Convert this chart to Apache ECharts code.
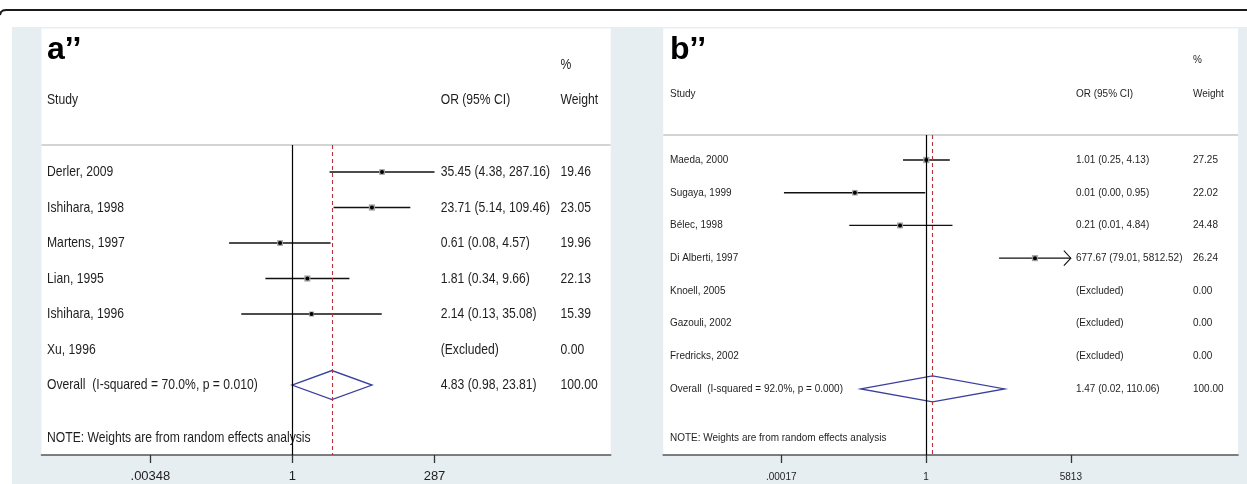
<!DOCTYPE html>
<html>
<head>
<meta charset="utf-8">
<title>Forest plots a'' and b''</title>
<script src="https://cdn.jsdelivr.net/npm/echarts@6/dist/echarts.min.js"></script>
<style>
  html, body { margin: 0; padding: 0; background: #ffffff; }
  #chart { width: 1247px; height: 484px; }
</style>
</head>
<body>
<div id="chart"></div>
<script>
// ---- Panel a'' : individual studies (odds ratio, 95% CI, % weight) ----
const studiesA = ['Derler, 2009', 'Ishihara, 1998', 'Martens, 1997', 'Lian, 1995', 'Ishihara, 1996', 'Xu, 1996'];
const orA      = [35.45, 23.71, 0.61, 1.81, 2.14, null];
const loA      = [4.38, 5.14, 0.08, 0.34, 0.13, null];
const hiA      = [287.16, 109.46, 4.57, 9.66, 35.08, null];
const weightA  = [19.46, 23.05, 19.96, 22.13, 15.39, 0.00];
const arrowA   = [false, false, false, false, false, false];
const overallLabelA = 'Overall  (I-squared = 70.0%, p = 0.010)';
const overallA = [4.83, 0.98, 23.81];   // OR, lower, upper
const overallWeightA = 100.00;
const ticksA = ['.00348', '1', '287'];

// ---- Panel b'' ----
const studiesB = ['Maeda, 2000', 'Sugaya, 1999', 'Bélec, 1998', 'Di Alberti, 1997', 'Knoell, 2005', 'Gazouli, 2002', 'Fredricks, 2002'];
const orB      = [1.01, 0.014, 0.21, 677.67, null, null, null];
const loB      = [0.25, 0.0002, 0.01, 79.01, null, null, null];
const hiB      = [4.13, 0.95, 4.84, 5812.52, null, null, null];
const weightB  = [27.25, 22.02, 24.48, 26.24, 0.00, 0.00, 0.00];
const arrowB   = [false, false, false, true, false, false, false];
const overallLabelB = 'Overall  (I-squared = 92.0%, p = 0.000)';
const overallB = [1.47, 0.02, 110.06];
const overallWeightB = 100.00;
const ticksB = ['.00017', '1', '5813'];

const NOTE = 'NOTE: Weights are from random effects analysis';

// ---- layout of the two panels (pixels) ----
const SANS = '"Liberation Sans", Arial, Helvetica, sans-serif';

const panels = [
  {
    letter: 'a\u2019\u2019',
    studies: studiesA, or: orA, lo: loA, hi: hiA, weight: weightA, arrow: arrowA,
    overallLabel: overallLabelA, overall: overallA, overallWeight: overallWeightA, ticks: ticksA,
    left: 41.5, right: 610.7, top: 145, axisY: 455,
    xMin: -10.0, xMax: 12.68, yMin: -0.76, yMax: 7.97,
    colStudy: 47, colOR: 440.7, colWeight: 560.5,
    headerY: 100, pctY: 65, letterY: 50, noteY: 438,
    fontSize: 15, textScale: 0.81, tickFontSize: 13, labelMargin: 15,
    diamondHalf: 14.5, boxScale: 1.3, ciWidth: 1.5
  },
  {
    letter: 'b\u2019\u2019',
    studies: studiesB, or: orB, lo: loB, hi: hiB, weight: weightB, arrow: arrowB,
    overallLabel: overallLabelB, overall: overallB, overallWeight: overallWeightB, ticks: ticksB,
    left: 663.2, right: 1238, top: 135, axisY: 455,
    xMin: -15.75, xMax: 18.68, yMin: -0.765, yMax: 9.02,
    colStudy: 670, colOR: 1076, colWeight: 1193,
    headerY: 94, pctY: 60, letterY: 50, noteY: 438,
    fontSize: 10.5, textScale: 0.95, tickFontSize: 10, labelMargin: 17,
    diamondHalf: 13, boxScale: 1.2, ciWidth: 1.4
  }
];

const fmt = v => v.toFixed(2);
const ln = Math.log;

// condensed text element anchored at its left-middle point
function label(P, text, x, y, extra) {
  return Object.assign({
    type: 'text', x: x, y: y, scaleX: P.textScale,
    style: { text: text, x: 0, y: 0, fill: '#1e1e1e', fontSize: P.fontSize, fontFamily: SANS, align: 'left', verticalAlign: 'middle' }
  }, extra || {});
}

function rowRenderer(P) {
  return function (params, api) {
    const i = api.value(1);
    const y = api.coord([0, i])[1];
    const X = v => api.coord([ln(v), i])[0];
    const kids = [];
    if (i === P.studies.length) {
      const [o, l, h] = P.overall;
      kids.push({
        type: 'polygon',
        shape: { points: [[X(l), y], [X(o), y - P.diamondHalf], [X(h), y], [X(o), y + P.diamondHalf]] },
        style: { fill: 'none', stroke: '#3a3f9e', lineWidth: 1.3 }
      });
      kids.push(label(P, P.overallLabel, P.colStudy, y));
      kids.push(label(P, `${fmt(o)} (${fmt(l)}, ${fmt(h)})`, P.colOR, y));
      kids.push(label(P, fmt(P.overallWeight), P.colWeight, y));
    } else {
      kids.push(label(P, P.studies[i], P.colStudy, y));
      const o = P.or[i];
      if (o == null) {
        kids.push(label(P, '(Excluded)', P.colOR, y));
      } else {
        const xl = X(P.lo[i]), xh = X(P.hi[i]), xo = X(o);
        kids.push({ type: 'line', shape: { x1: xl, y1: y, x2: xh, y2: y }, style: { stroke: '#111', lineWidth: P.ciWidth } });
        if (P.arrow[i]) {
          kids.push({ type: 'polyline', shape: { points: [[xh - 7, y - 7.5], [xh, y], [xh - 7, y + 7.5]] }, style: { stroke: '#111', fill: 'none', lineWidth: 1.1 } });
        }
        const s = P.boxScale * Math.sqrt(P.weight[i]);
        kids.push({ type: 'rect', shape: { x: xo - s / 2, y: y - s / 2, width: s, height: s }, style: { fill: '#a3a3a3' } });
        kids.push({ type: 'circle', shape: { cx: xo, cy: y, r: 2 }, style: { fill: '#000' } });
        kids.push(label(P, `${fmt(o)} (${fmt(P.lo[i])}, ${fmt(P.hi[i])})`, P.colOR, y));
      }
      kids.push(label(P, fmt(P.weight[i]), P.colWeight, y));
    }
    return { type: 'group', children: kids };
  };
}

const grid = [], xAxis = [], yAxis = [], series = [], graphic = [];

// page frame: top rule (with rounded left end) and light backdrop
graphic.push({ type: 'polyline', z: -20, shape: { points: [[0, 15], [1, 12], [3, 10.5], [6, 10], [1247, 10]] }, style: { stroke: '#1a1a1a', lineWidth: 2, fill: 'none' } });
graphic.push({ type: 'rect', z: -20, shape: { x: 12, y: 27, width: 1235, height: 457 }, style: { fill: '#e7eef1' } });

panels.forEach((P, k) => {
  const tickVals = P.ticks.map(t => ln(parseFloat(t)));
  const tickLabel = v => {
    const idx = tickVals.findIndex(t => Math.abs(t - v) < 1e-6);
    return idx >= 0 ? P.ticks[idx] : '';
  };
  grid.push({ left: P.left, top: P.top, width: P.right - P.left, height: P.axisY - P.top, show: false });
  xAxis.push({
    gridIndex: k, type: 'value', min: P.xMin, max: P.xMax,
    axisLine: { show: true, onZero: false, lineStyle: { color: '#555', width: 1.6 } },
    axisTick: { show: true, customValues: tickVals, length: 8, inside: false, lineStyle: { color: '#333', width: 1.3 } },
    axisLabel: { show: true, customValues: tickVals, formatter: tickLabel, margin: P.labelMargin, color: '#1e1e1e', fontSize: P.tickFontSize, fontFamily: SANS },
    splitLine: { show: false }
  });
  yAxis.push({ gridIndex: k, type: 'value', inverse: true, min: P.yMin, max: P.yMax, show: false });

  const rows = [];
  for (let i = 0; i <= P.studies.length; i++) rows.push([0, i]);
  series.push({
    type: 'custom', xAxisIndex: k, yAxisIndex: k, data: rows, clip: false,
    encode: { x: 0, y: 1 },
    renderItem: rowRenderer(P),
    silent: true,
    markLine: {
      silent: true, symbol: ['none', 'none'], label: { show: false }, animation: false,
      data: [
        { xAxis: 0, lineStyle: { color: '#000', width: 1.2, type: 'solid' } },
        { xAxis: ln(P.overall[0]), lineStyle: { color: '#b8333f', width: 1.1, type: [4, 3] } }
      ]
    },
    z: 3
  });

  // white plotting panel and header rule
  graphic.push({ type: 'rect', z: -10, shape: { x: P.left, y: 28.5, width: P.right - P.left, height: P.axisY - 28.5 }, style: { fill: '#ffffff' } });
  graphic.push({ type: 'line', z: -5, shape: { x1: P.left, y1: P.top, x2: P.right, y2: P.top }, style: { stroke: '#d4d4d4', lineWidth: 2 } });

  graphic.push({ type: 'text', z: 5, x: P.colStudy, y: P.letterY, style: { text: P.letter, x: 0, y: 0, fill: '#000', fontSize: 32, fontWeight: 'bold', fontFamily: SANS, align: 'left', verticalAlign: 'middle' } });
  graphic.push(label(P, '%', P.colWeight, P.pctY, { z: 5 }));
  graphic.push(label(P, 'Study', P.colStudy, P.headerY, { z: 5 }));
  graphic.push(label(P, 'OR (95% CI)', P.colOR, P.headerY, { z: 5 }));
  graphic.push(label(P, 'Weight', P.colWeight, P.headerY, { z: 5 }));
  graphic.push(label(P, NOTE, P.colStudy, P.noteY, { z: 5 }));
});

const chart = echarts.init(document.getElementById('chart'), null, { renderer: 'canvas' });
chart.setOption({
  animation: false,
  backgroundColor: '#ffffff',
  grid: grid, xAxis: xAxis, yAxis: yAxis, series: series, graphic: graphic
});
</script>
</body>
</html>
